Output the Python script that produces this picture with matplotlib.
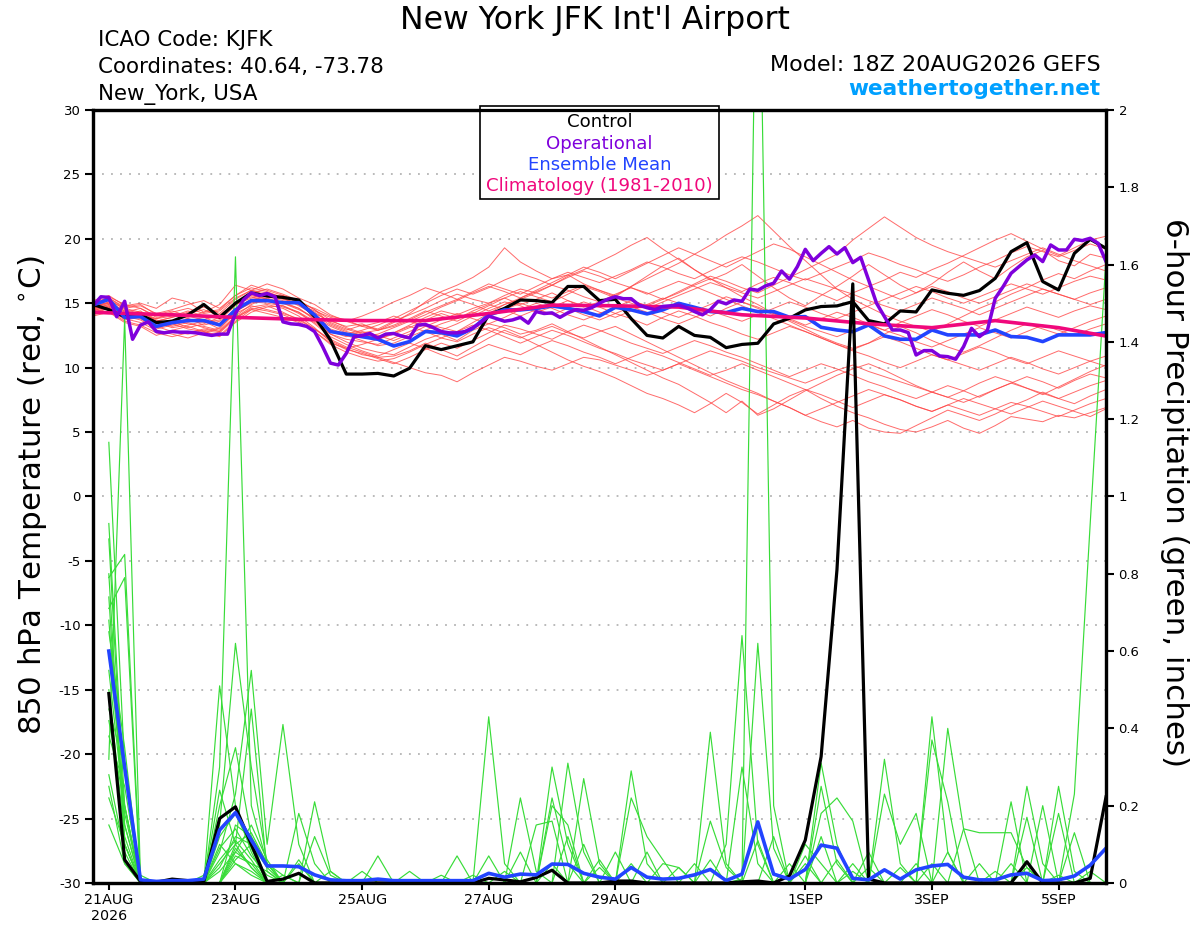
import numpy as np
import matplotlib.pyplot as plt
from matplotlib.patches import Rectangle
from matplotlib.ticker import FormatStrFormatter

plt.rcParams['font.family'] = ['DejaVu Sans']

# forecast hours of the 18Z 20AUG2026 run
hours_t = np.arange(0, 385, 6)    # temperature, 6-hourly (65)
hours_op = np.arange(0, 385, 3)   # operational, 3-hourly (129)
hours_p = np.arange(6, 385, 6)    # 6-hour precip totals (64)
clim_hours = [0, 6, 30, 54, 78, 102, 126, 150, 174, 198, 222, 246, 270,
              294, 318, 342, 366, 384]

tick_days = [0, 2, 4, 6, 8, 11, 13, 15]
tick_labels = ['21AUG\n2026', '23AUG', '25AUG', '27AUG', '29AUG',
               '1SEP', '3SEP', '5SEP']

# ---- 850 hPa temperature (C) ----
control_t = [14.9, 14.5, 13.95, 14.1, 13.5, 13.6, 14.1, 14.9, 13.9, 15.0, 15.8, 15.56, 15.45, 15.25, 13.96, 12.15,
             9.5, 9.5, 9.55, 9.35, 9.95, 11.7, 11.4, 11.7, 12.0, 14.1, 14.6, 15.25, 15.2, 15.05, 16.3, 16.3,
             15.2, 15.3, 13.8, 12.5, 12.3, 13.2, 12.5, 12.35, 11.55, 11.8, 11.89, 13.39, 13.83, 14.48, 14.74, 14.79,
             15.12, 13.65, 13.39, 14.4, 14.32, 16.03, 15.77, 15.61, 15.98, 16.93, 19.0, 19.7, 16.68, 16.03, 18.87, 19.96, 19.26]
mean_t = [14.86, 15.3, 13.9, 13.96, 13.2, 13.49, 13.65, 13.65, 13.31, 14.48, 15.2, 15.2, 15.04, 15.04, 14.09, 12.8,
          12.6, 12.4, 12.2, 11.68, 12.02, 12.8, 12.72, 12.46, 13.05, 14.09, 14.48, 14.48, 14.6, 14.79, 14.6, 14.35,
          14.01, 14.68, 14.48, 14.17, 14.48, 14.99, 14.68, 14.35, 14.27, 14.6, 14.35, 14.35, 13.91, 13.96, 13.13, 12.92,
          12.79, 13.31, 12.46, 12.2, 12.2, 12.92, 12.54, 12.54, 12.54, 12.92, 12.41, 12.35, 12.02, 12.54, 12.54, 12.54, 12.72]
oper_t = [14.8, 15.5, 15.45, 13.95, 15.15, 12.2, 13.3, 13.55, 12.8, 12.7, 12.8, 12.75, 12.75, 12.7, 12.6, 12.5,
          12.6, 12.6, 14.2, 15.25, 15.8, 15.6, 15.75, 15.5, 13.55, 13.4, 13.35, 13.2, 12.8, 11.65, 10.35, 10.2,
          11.1, 12.4, 12.5, 12.65, 12.3, 12.6, 12.65, 12.45, 12.3, 13.3, 13.35,
          13.1, 12.8, 12.7, 12.7, 12.8, 13.1, 13.5, 14.0, 13.8, 13.6, 13.7, 13.9, 13.45, 14.35, 14.2, 14.25,
          13.9, 14.25, 14.5, 14.45, 14.65, 15.0, 15.3, 15.5, 15.35, 15.35, 14.85, 14.65, 14.5, 14.75, 14.8, 14.85,
          14.65, 14.35, 14.1, 14.5, 15.15, 14.95, 15.25, 15.15, 16.1, 16.0, 16.35,
          16.55, 17.5, 16.86, 17.84, 19.18, 18.3, 18.87, 19.39, 18.82, 19.31, 18.15, 18.56, 16.8, 15.0, 13.96, 12.92,
          12.92, 12.72, 10.98, 11.32, 11.32, 10.9, 10.85, 10.65, 11.63, 13.05, 12.4, 12.87, 15.38, 16.29, 17.32, 17.84,
          18.36, 18.74, 18.23, 19.52, 19.13, 19.13, 19.96, 19.86, 20.04, 19.65, 18.23]
clim_t = [14.3, 14.25, 14.1, 13.9, 13.75, 13.65, 13.65, 14.2, 14.85, 14.8, 14.7, 14.1,
          13.85, 13.4, 13.1, 13.65, 13.1, 12.45]

# ensemble members, temperature
r00 = [15.2, 15.6, 14.8, 15.0, 14.6, 15.4, 15.1, 14.3, 14.9, 16.4, 16.0, 15.8, 15.5, 15.1, 14.2, 13.6,
       13.2, 13.4, 12.9, 13.5, 14.2, 15.1, 15.9, 16.4, 17.0, 17.8, 19.3, 18.2, 17.5, 16.9, 17.2, 16.5,
       16.0, 15.5, 16.3, 17.1, 17.9, 18.5, 17.6, 16.8, 17.3, 18.0, 17.1, 16.2, 15.4, 14.8, 15.6, 16.3,
       17.1, 18.0, 17.2, 16.4, 15.8, 16.5, 17.4, 18.2, 17.5, 16.9, 17.8, 18.6, 19.1, 18.3, 17.9, 18.8, 18.5]
r01 = [14.5, 14.9, 14.2, 13.8, 13.1, 13.4, 13.0, 12.8, 12.5, 13.6, 14.5, 14.8, 14.3, 13.7, 13.0, 12.1,
       11.5, 11.0, 10.8, 10.9, 11.3, 11.9, 11.4, 10.9, 11.6, 12.3, 12.9, 12.4, 11.8, 11.2, 10.6, 10.1,
       9.7, 9.2, 8.6, 8.0, 7.6, 7.1, 6.5, 7.2, 8.0, 7.3, 6.4, 7.1, 7.8, 8.3, 7.6, 7.0,
       6.5, 6.1, 5.6, 5.2, 5.0, 5.4, 5.9, 5.3, 4.9, 5.5, 6.2, 6.0, 5.8, 6.3, 6.1, 6.5, 6.9]
r02 = [14.6, 15.0, 14.1, 14.4, 13.6, 13.9, 14.2, 14.5, 14.0, 15.1, 15.6, 15.3, 15.1, 14.6, 13.7, 12.6,
       12.2, 12.0, 11.8, 12.3, 12.8, 13.4, 13.1, 12.8, 13.5, 14.2, 14.9, 15.3, 15.8, 16.4, 17.1, 17.6,
       18.2, 18.8, 19.5, 20.1, 19.2, 18.4, 17.6, 16.9, 16.2, 15.5, 14.9, 14.2, 13.6, 13.0, 12.4, 11.9,
       11.5, 11.9, 12.6, 13.2, 12.7, 12.1, 11.6, 11.2, 11.7, 12.3, 12.9, 13.4, 13.0, 12.6, 13.1, 13.6, 14.0]
r03 = [14.3, 14.7, 13.8, 14.0, 13.4, 13.7, 13.4, 13.2, 12.9, 14.0, 14.9, 15.4, 15.6, 15.0, 14.3, 13.5,
       13.0, 12.6, 12.3, 12.7, 13.3, 13.9, 14.4, 14.1, 14.6, 15.0, 15.4, 14.9, 15.3, 15.8, 15.2, 14.7,
       15.1, 15.6, 16.3, 16.9, 17.5, 18.1, 18.8, 19.5, 20.3, 21.0, 21.8, 20.6, 19.4, 18.3, 17.2, 16.1,
       15.3, 14.7, 14.1, 13.6, 13.2, 12.8, 13.4, 14.0, 14.6, 15.1, 15.7, 16.2, 16.8, 17.3, 16.9, 17.5, 18.0]
r04 = [15.0, 15.3, 14.5, 14.2, 13.5, 13.1, 13.3, 13.6, 13.0, 14.3, 15.1, 15.0, 14.8, 14.2, 13.5, 12.6,
       12.0, 11.5, 11.2, 11.0, 11.6, 12.2, 12.6, 12.1, 12.9, 13.4, 13.1, 12.6, 12.9, 13.4, 12.8, 12.2,
       11.6, 11.0, 10.4, 9.8, 9.2, 8.7, 8.0, 7.3, 6.5, 7.4, 6.3, 6.8, 7.5, 8.2, 8.8, 9.4,
       9.9, 10.3, 9.8, 9.2, 8.6, 8.1, 7.7, 8.2, 8.8, 9.3, 8.9, 8.4, 7.9, 8.5, 9.1, 9.7, 10.2]
r05 = [14.7, 15.1, 14.3, 14.6, 13.9, 14.1, 13.8, 13.5, 13.7, 14.8, 15.8, 16.1, 15.7, 15.2, 14.5, 13.4,
       12.9, 13.3, 13.0, 13.6, 14.1, 14.6, 15.2, 15.7, 15.3, 15.0, 15.6, 16.1, 15.8, 15.4, 15.9, 16.4,
       16.0, 15.6, 15.2, 14.8, 15.3, 15.9, 16.5, 17.1, 16.7, 16.2, 15.8, 16.4, 17.0, 17.6, 18.2, 18.8,
       19.9, 20.8, 21.7, 20.9, 20.1, 19.5, 19.0, 18.6, 18.2, 17.8, 18.3, 18.8, 19.3, 18.8, 18.3, 17.9, 17.5]
r06 = [14.2, 14.6, 13.7, 13.9, 13.2, 12.8, 12.6, 12.9, 12.7, 13.8, 14.6, 14.4, 14.1, 13.6, 12.8, 11.8,
       11.2, 10.8, 10.5, 10.7, 11.2, 11.8, 12.3, 12.0, 12.6, 13.1, 12.7, 12.3, 12.8, 13.2, 12.7, 12.3,
       12.8, 13.2, 12.6, 12.0, 11.4, 10.8, 10.2, 9.6, 9.0, 8.5, 8.0, 7.4, 6.9, 6.3, 5.8, 5.4,
       5.9, 5.3, 5.0, 4.9, 5.5, 6.1, 6.7, 6.3, 5.9, 6.4, 7.0, 7.5, 8.1, 7.6, 7.2, 7.8, 8.3]
r07 = [14.9, 15.2, 14.6, 14.8, 14.2, 14.5, 14.9, 15.2, 14.6, 15.6, 16.2, 15.9, 15.4, 14.9, 14.4, 13.9,
       13.6, 14.0, 14.5, 15.1, 15.6, 16.2, 15.8, 15.3, 15.9, 16.5, 16.1, 15.7, 16.3, 16.9, 17.4, 17.0,
       16.6, 17.1, 17.6, 18.2, 17.8, 17.3, 16.9, 17.5, 18.1, 18.6, 18.2, 17.7, 17.2, 16.8, 17.3, 17.8,
       18.3, 18.9, 18.5, 18.0, 17.6, 17.1, 16.7, 17.2, 17.8, 18.3, 18.9, 19.4, 19.0, 18.6, 19.1, 19.6, 19.2]
r08 = [14.4, 14.8, 14.0, 13.7, 13.0, 13.3, 13.6, 13.9, 13.4, 14.6, 15.3, 15.5, 15.2, 14.9, 14.0, 12.9,
       12.5, 12.1, 11.7, 11.9, 12.4, 12.9, 13.4, 13.8, 14.3, 14.0, 14.5, 15.0, 14.6, 14.1, 14.6, 15.1,
       14.7, 14.2, 13.8, 13.3, 13.9, 14.4, 14.0, 13.5, 13.1, 12.6, 12.2, 12.7, 13.2, 12.8, 12.3, 11.8,
       11.4, 11.9, 12.4, 12.0, 11.5, 11.0, 10.6, 11.1, 11.6, 11.2, 10.7, 10.3, 10.8, 11.3, 10.9, 10.5, 10.9]
r09 = [14.1, 14.4, 13.6, 13.3, 12.7, 12.4, 12.7, 13.0, 12.8, 13.9, 14.7, 14.9, 14.6, 14.0, 13.1, 12.0,
       11.4, 11.1, 10.7, 10.3, 10.8, 11.4, 11.9, 11.5, 12.1, 12.7, 13.3, 13.0, 12.6, 12.2, 12.8, 13.3,
       12.9, 12.4, 11.9, 11.5, 11.1, 11.6, 12.1, 11.7, 11.2, 10.8, 10.3, 9.8, 9.3, 9.8, 10.3, 9.9,
       9.4, 8.9, 8.5, 8.0, 7.6, 8.1, 8.6, 8.2, 7.7, 8.3, 8.8, 9.3, 8.9, 8.4, 9.0, 9.5, 9.2]
r10 = [14.8, 15.0, 14.4, 14.1, 13.6, 13.9, 14.3, 14.7, 14.2, 15.3, 16.0, 15.6, 15.3, 15.0, 14.6, 14.0,
       13.7, 13.2, 12.9, 13.2, 13.7, 14.3, 14.8, 15.3, 14.9, 14.4, 14.9, 15.4, 15.9, 16.4, 16.0, 15.5,
       15.1, 15.7, 16.2, 15.8, 15.3, 15.8, 16.4, 16.9, 16.4, 15.9, 16.5, 17.0, 16.6, 16.1, 15.7, 15.2,
       15.8, 16.3, 16.8, 17.4, 17.0, 17.6, 18.1, 18.7, 19.3, 19.9, 20.4, 19.8, 19.2, 18.7, 19.3, 19.9, 20.2]
r11 = [14.6, 14.9, 14.1, 14.3, 13.7, 13.4, 13.8, 13.3, 13.6, 14.4, 15.0, 15.4, 15.0, 14.5, 13.9, 13.2,
       12.7, 12.4, 12.6, 13.1, 13.6, 13.2, 12.9, 13.4, 14.0, 14.6, 15.1, 14.8, 14.3, 14.7, 15.2, 14.8,
       14.3, 13.9, 14.4, 14.9, 15.4, 15.0, 14.5, 14.0, 14.6, 15.1, 14.7, 14.2, 13.8, 13.3, 13.8, 14.3,
       13.9, 13.4, 12.9, 13.5, 14.0, 14.5, 14.1, 13.6, 13.2, 13.7, 14.2, 14.7, 14.3, 13.9, 14.4, 14.8, 14.5]
r12 = [14.0, 14.3, 13.5, 13.2, 12.5, 12.9, 13.2, 12.8, 12.4, 13.5, 14.3, 14.7, 14.8, 14.3, 13.4, 12.4,
       11.8, 11.3, 10.9, 11.4, 11.9, 11.5, 11.0, 10.6, 11.2, 11.8, 11.4, 11.0, 11.6, 12.1, 11.7, 11.2,
       10.8, 10.3, 10.8, 11.3, 10.9, 10.4, 9.9, 9.4, 9.8, 10.3, 9.8, 9.3, 8.8, 8.3, 7.9, 7.4,
       6.9, 7.4, 7.9, 7.5, 7.0, 6.6, 7.1, 7.6, 7.2, 6.8, 6.4, 6.9, 7.4, 7.0, 6.6, 6.2, 6.8]
r13 = [15.1, 15.4, 14.7, 14.9, 14.1, 14.4, 14.0, 13.7, 14.1, 15.0, 15.7, 15.3, 15.0, 14.6, 13.8, 13.0,
       12.6, 12.9, 13.3, 13.8, 14.4, 15.0, 15.6, 16.1, 15.7, 16.2, 16.8, 17.3, 16.9, 16.4, 17.0, 17.5,
       17.1, 16.6, 16.2, 15.7, 16.2, 16.7, 16.3, 15.8, 15.3, 14.8, 14.3, 13.8, 13.3, 12.8, 12.3, 11.8,
       11.3, 10.9, 10.4, 10.0, 10.5, 11.0, 10.6, 10.2, 9.8, 10.3, 10.8, 10.4, 9.9, 9.5, 10.0, 10.5, 10.1]
r14 = [14.5, 14.7, 13.9, 14.1, 13.3, 13.6, 13.1, 13.4, 13.9, 15.0, 15.5, 15.2, 14.7, 14.3, 13.6, 12.8,
       12.4, 12.8, 12.5, 12.1, 12.6, 13.2, 13.7, 14.2, 13.8, 13.4, 13.9, 14.5, 15.0, 14.6, 14.1, 13.7,
       14.2, 14.7, 15.2, 14.8, 14.3, 13.9, 14.4, 14.9, 15.5, 15.1, 14.6, 14.1, 13.7, 13.2, 12.8, 12.4,
       12.9, 13.3, 12.9, 12.5, 12.0, 11.6, 12.1, 12.6, 13.1, 12.7, 12.3, 12.8, 13.3, 12.9, 12.5, 13.0, 13.4]
r15 = [14.8, 15.5, 14.9, 14.6, 14.0, 14.3, 14.6, 14.2, 14.4, 15.4, 16.0, 16.5, 16.1, 15.4, 14.9, 14.1,
       13.6, 13.2, 13.5, 14.0, 13.6, 14.1, 14.7, 15.2, 15.8, 16.3, 15.9, 15.4, 16.0, 16.6, 17.2, 17.8,
       17.4, 16.9, 17.5, 18.1, 18.7, 19.3, 18.8, 18.3, 17.8, 18.4, 19.0, 19.6, 19.2, 18.6, 18.0, 17.4,
       16.8, 16.3, 15.8, 15.3, 15.8, 16.3, 15.9, 15.4, 15.0, 15.5, 16.0, 16.5, 16.1, 15.7, 15.3, 15.8, 16.2]
r16 = [14.3, 14.6, 13.8, 13.5, 12.9, 12.6, 12.3, 12.7, 13.1, 14.2, 14.8, 14.5, 14.2, 13.8, 13.0, 12.2,
       11.6, 11.2, 10.8, 10.4, 10.0, 9.6, 9.4, 8.9, 9.6, 10.2, 10.8, 10.5, 10.1, 9.8, 10.3, 10.8,
       10.6, 10.2, 9.8, 9.4, 9.8, 10.3, 10.8, 11.3, 10.9, 10.5, 10.0, 9.6, 9.2, 8.8, 9.3, 9.8,
       10.2, 9.7, 9.3, 8.9, 8.5, 8.1, 7.7, 7.3, 7.8, 8.3, 8.8, 8.4, 8.0, 7.6, 8.1, 8.6, 9.0]
r17 = [14.6, 15.1, 14.4, 14.0, 13.8, 14.0, 14.4, 14.0, 13.8, 14.9, 15.4, 15.8, 15.4, 14.8, 14.1, 13.3,
       12.8, 12.5, 12.2, 12.6, 13.1, 13.7, 14.2, 13.8, 14.4, 14.9, 14.5, 14.0, 14.5, 15.0, 14.6, 14.1,
       13.7, 14.2, 14.7, 14.3, 13.8, 13.4, 13.9, 14.4, 14.0, 13.6, 14.1, 14.6, 15.1, 14.7, 14.2, 13.8,
       14.3, 14.8, 15.3, 15.8, 16.3, 15.9, 15.4, 15.0, 15.5, 16.0, 16.5, 16.1, 15.7, 16.2, 16.7, 17.1, 16.8]
r18 = [14.4, 14.8, 14.0, 14.2, 13.5, 13.2, 13.5, 13.1, 12.8, 13.9, 14.5, 14.2, 13.9, 13.5, 12.8, 11.9,
       11.5, 11.8, 12.2, 12.7, 13.2, 12.8, 12.3, 12.8, 13.3, 12.9, 12.4, 11.9, 12.4, 12.9, 12.5, 12.0,
       11.5, 11.1, 10.6, 10.2, 9.8, 10.3, 9.8, 9.3, 8.8, 8.3, 7.9, 7.4, 6.9, 6.3, 6.8, 7.3,
       7.8, 8.3, 7.9, 7.5, 7.0, 6.6, 7.1, 6.7, 6.3, 6.8, 7.3, 7.0, 6.6, 6.2, 6.7, 7.2, 7.6]
r19 = [15.0, 15.4, 14.6, 14.3, 13.8, 14.2, 13.9, 14.3, 14.5, 15.6, 16.4, 16.0, 15.6, 15.2, 14.5, 13.7,
       13.1, 12.7, 12.9, 13.3, 13.8, 14.4, 14.0, 13.6, 14.2, 14.8, 15.4, 15.9, 15.5, 15.1, 15.7, 16.3,
       15.9, 15.4, 15.0, 14.6, 15.1, 15.6, 16.1, 16.6, 16.2, 15.8, 15.4, 15.9, 16.4, 16.9, 16.5, 16.1,
       15.7, 15.2, 14.8, 14.4, 14.9, 15.4, 15.0, 14.6, 14.1, 14.6, 15.1, 15.6, 16.1, 15.7, 15.3, 14.9, 15.3]
red_members = [r00, r01, r02, r03, r04, r05, r06, r07, r08, r09,
               r10, r11, r12, r13, r14, r15, r16, r17, r18, r19]

# ---- 6-hour precipitation (inches) ----
control_p = [0.49, 0.06, 0.004, 0.002, 0.01, 0.006, 0.004, 0.167, 0.197, 0.10, 0.004, 0.01, 0.025, 0, 0, 0,
             0, 0, 0, 0, 0, 0, 0, 0, 0.012, 0.008, 0.003, 0.014, 0.033, 0, 0, 0,
             0.005, 0.005, 0, 0, 0, 0, 0, 0, 0.003, 0.005, 0, 0.018, 0.111, 0.327, 0.81, 1.55,
             0.01, 0, 0, 0, 0, 0, 0, 0, 0, 0, 0.055, 0, 0, 0, 0.012, 0.223]
mean_p = [0.60, 0.30, 0.008, 0.004, 0.006, 0.006, 0.01, 0.137, 0.182, 0.111, 0.044, 0.044, 0.042, 0.021, 0.008, 0.006,
          0.006, 0.01, 0.006, 0.006, 0.006, 0.006, 0.006, 0.006, 0.025, 0.015, 0.023, 0.021, 0.049, 0.048, 0.025, 0.015,
          0.01, 0.04, 0.015, 0.01, 0.012, 0.021, 0.035, 0.006, 0.023, 0.158, 0.023, 0.01, 0.035, 0.098, 0.09, 0.012,
          0.008, 0.034, 0.01, 0.034, 0.044, 0.048, 0.015, 0.008, 0.008, 0.021, 0.025, 0.006, 0.008, 0.018, 0.046, 0.09]

g00 = [1.14, 0.30, 0.02, 0, 0, 0, 0, 0.05, 0.10, 0.04, 0, 0, 0, 0, 0, 0,
       0, 0, 0, 0, 0, 0, 0, 0, 0.43, 0.05, 0, 0, 0, 0, 0, 0,
       0, 0, 0, 0, 0, 0, 0, 0, 0, 0, 0, 0, 0, 0.31, 0.10, 0,
       0, 0, 0, 0, 0.05, 0, 0, 0, 0, 0, 0, 0, 0, 0, 0, 0]
g01 = [0.93, 0.20, 0, 0, 0, 0, 0.02, 0.15, 0.62, 0.30, 0.05, 0.02, 0, 0, 0, 0,
       0, 0, 0, 0, 0, 0, 0, 0, 0, 0, 0, 0, 0.30, 0.10, 0, 0,
       0, 0, 0, 0, 0, 0, 0, 0, 0, 0.62, 0.09, 0, 0, 0, 0, 0,
       0, 0, 0, 0, 0, 0.40, 0.14, 0, 0, 0, 0, 0, 0, 0, 0, 0]
g02 = [0.89, 0.15, 0, 0, 0, 0, 0, 0.51, 0.20, 0.08, 0, 0, 0, 0.21, 0.03, 0,
       0, 0, 0, 0, 0, 0, 0, 0, 0, 0, 0, 0, 0, 0, 0.27, 0.05,
       0, 0, 0, 0, 0, 0, 0, 0, 0, 0, 0, 0, 0, 0, 0, 0,
       0, 0.32, 0.05, 0, 0, 0, 0, 0, 0, 0.21, 0, 0, 0, 0, 0, 0]
g03 = [0.79, 0.85, 0.01, 0, 0, 0, 0, 0.30, 1.62, 0.20, 0.05, 0, 0, 0, 0, 0,
       0, 0, 0, 0, 0, 0, 0, 0, 0, 0, 0.22, 0.03, 0, 0, 0, 0,
       0, 0, 0, 0, 0, 0, 0.39, 0.05, 0, 0, 0, 0, 0, 0, 0, 0,
       0, 0, 0, 0, 0, 0, 0, 0, 0, 0, 0.25, 0.05, 0, 0, 0, 0]
g04 = [0.74, 0.10, 0, 0, 0, 0, 0, 0.08, 0.23, 0.55, 0.10, 0.41, 0.10, 0, 0, 0,
       0, 0, 0, 0, 0, 0, 0, 0, 0, 0, 0, 0, 0, 0.31, 0.08, 0,
       0, 0, 0, 0, 0, 0, 0, 0, 0.01, 2.70, 0.20, 0, 0, 0, 0, 0,
       0, 0, 0, 0, 0.43, 0.08, 0, 0, 0, 0, 0, 0, 0, 0, 0, 0]
g05 = [0.71, 0.79, 0, 0, 0, 0, 0, 0.24, 0.10, 0.45, 0.03, 0, 0, 0, 0, 0,
       0, 0, 0, 0, 0, 0, 0, 0, 0, 0, 0, 0, 0.22, 0.05, 0, 0,
       0, 0.29, 0.05, 0, 0, 0, 0, 0, 0, 0, 0, 0, 0, 0.25, 0.05, 0,
       0, 0, 0, 0, 0, 0, 0, 0, 0, 0, 0, 0, 0.25, 0.03, 0, 0]
g06 = [0.60, 0.20, 0, 0, 0, 0, 0, 0, 0.15, 0.12, 0.05, 0, 0.18, 0.05, 0, 0,
       0, 0, 0, 0, 0, 0, 0, 0, 0, 0, 0, 0, 0, 0, 0, 0,
       0, 0.22, 0.12, 0.06, 0, 0, 0, 0, 0, 0, 0, 0, 0, 0.18, 0.22, 0.16,
       0, 0, 0, 0, 0.37, 0.21, 0, 0, 0, 0, 0, 0, 0, 0, 0, 0]
g07 = [0.32, 1.46, 0.01, 0, 0, 0, 0, 0.10, 0.05, 0.02, 0, 0, 0, 0, 0, 0,
       0, 0.07, 0, 0, 0, 0, 0, 0, 0, 0, 0, 0, 0.20, 0.15, 0, 0,
       0, 0, 0, 0, 0, 0, 0, 0, 0.30, 0.05, 0, 0, 0, 0, 0, 0,
       0, 0.23, 0.10, 0.18, 0, 0, 0, 0, 0, 0, 0, 0, 0, 0.23, 0.93, 1.62]
g08 = [0.22, 0.10, 0, 0, 0, 0, 0, 0.12, 0.18, 0.09, 0, 0, 0, 0.12, 0.02, 0,
       0, 0, 0, 0, 0, 0, 0, 0, 0.07, 0, 0, 0, 0, 0, 0, 0,
       0, 0, 0, 0, 0, 0, 0.16, 0.04, 0, 0, 0, 0, 0.10, 0.05, 0, 0,
       0, 0, 0, 0, 0, 0, 0.14, 0.13, 0.13, 0.13, 0.04, 0, 0, 0, 0, 0]
g09 = [0.15, 0.05, 0, 0, 0, 0, 0, 0, 0.08, 0.15, 0.06, 0, 0, 0, 0, 0,
       0, 0, 0, 0, 0, 0, 0, 0, 0, 0, 0, 0.15, 0.16, 0, 0, 0,
       0, 0, 0, 0.05, 0.04, 0, 0, 0, 0, 0, 0, 0, 0, 0, 0, 0,
       0.08, 0, 0, 0, 0, 0, 0, 0, 0, 0, 0, 0.20, 0, 0, 0, 0]
g10 = [0.45, 0.30, 0, 0, 0, 0, 0, 0.03, 0.08, 0.05, 0, 0, 0, 0, 0, 0,
       0, 0, 0, 0, 0, 0, 0.07, 0, 0, 0, 0.08, 0, 0, 0, 0, 0.06,
       0, 0, 0, 0, 0, 0, 0, 0.10, 0.64, 0.10, 0, 0, 0, 0, 0, 0,
       0, 0, 0, 0, 0, 0, 0, 0, 0, 0, 0.17, 0, 0, 0, 0, 0]
g11 = [0.50, 0.12, 0, 0, 0, 0, 0, 0, 0.06, 0.10, 0.04, 0, 0.05, 0, 0, 0,
       0, 0, 0, 0, 0, 0, 0, 0, 0, 0, 0, 0, 0, 0, 0.10, 0,
       0, 0, 0, 0, 0, 0, 0, 0, 0, 0, 0.12, 0, 0, 0, 0, 0.05,
       0, 0, 0, 0, 0, 0, 0, 0, 0, 0, 0, 0, 0, 0.13, 0, 0]
g12 = [0.38, 0.25, 0, 0, 0, 0, 0, 0.09, 0.14, 0.07, 0.02, 0, 0, 0, 0, 0,
       0.03, 0, 0, 0, 0, 0, 0, 0, 0, 0, 0, 0, 0, 0, 0, 0,
       0, 0, 0.08, 0, 0, 0, 0, 0, 0, 0, 0, 0.05, 0, 0, 0, 0,
       0, 0, 0, 0, 0, 0.08, 0, 0, 0, 0, 0, 0, 0.18, 0, 0, 0]
g13 = [0.65, 0.35, 0, 0, 0, 0, 0, 0, 0.10, 0.13, 0.05, 0, 0, 0, 0.03, 0,
       0, 0, 0, 0, 0, 0, 0, 0, 0, 0, 0, 0, 0, 0, 0, 0,
       0.08, 0, 0, 0, 0, 0, 0, 0, 0, 0, 0, 0, 0, 0, 0.06, 0,
       0, 0, 0.04, 0, 0, 0, 0, 0, 0, 0, 0, 0, 0, 0, 0, 0]
g14 = [0.55, 0.18, 0, 0, 0, 0, 0, 0.06, 0.11, 0.06, 0, 0.02, 0, 0, 0, 0,
       0, 0, 0, 0, 0, 0, 0, 0, 0, 0.03, 0, 0, 0, 0, 0, 0,
       0, 0, 0, 0, 0.04, 0, 0, 0, 0, 0, 0, 0, 0.07, 0, 0, 0,
       0, 0, 0, 0, 0, 0, 0, 0.05, 0, 0, 0, 0, 0, 0, 0, 0]
g15 = [0.80, 0.10, 0, 0, 0, 0, 0, 0, 0.09, 0.04, 0, 0, 0, 0, 0, 0,
       0, 0, 0, 0.03, 0, 0, 0, 0, 0, 0, 0, 0, 0, 0.12, 0, 0,
       0, 0, 0, 0, 0, 0.05, 0, 0, 0, 0, 0, 0, 0, 0, 0, 0.03,
       0, 0, 0, 0, 0, 0, 0, 0, 0, 0, 0.04, 0, 0, 0, 0, 0]
g16 = [0.28, 0.08, 0, 0, 0, 0, 0, 0.04, 0.12, 0.10, 0, 0, 0, 0, 0, 0,
       0, 0, 0, 0, 0, 0.02, 0, 0, 0, 0, 0, 0, 0, 0, 0, 0,
       0, 0.05, 0, 0, 0, 0, 0, 0, 0, 0, 0, 0, 0, 0.12, 0, 0,
       0, 0, 0, 0, 0, 0, 0, 0, 0, 0.05, 0, 0, 0, 0, 0, 0]
g17 = [0.42, 0.20, 0, 0, 0, 0, 0, 0, 0.07, 0.05, 0.03, 0, 0, 0, 0, 0,
       0, 0, 0, 0, 0, 0, 0, 0, 0, 0, 0, 0, 0.05, 0, 0, 0,
       0, 0, 0, 0, 0, 0, 0, 0, 0, 0.11, 0, 0, 0, 0, 0, 0,
       0, 0, 0, 0.05, 0, 0, 0, 0, 0, 0, 0, 0, 0, 0, 0.03, 0]
g18 = [0.68, 0.15, 0, 0, 0, 0, 0, 0.20, 0.35, 0.12, 0, 0, 0.06, 0, 0, 0,
       0, 0, 0, 0, 0, 0, 0, 0, 0, 0, 0, 0, 0, 0, 0, 0.04,
       0, 0, 0, 0, 0, 0, 0, 0, 0, 0, 0, 0, 0.05, 0, 0, 0,
       0, 0, 0, 0, 0, 0, 0, 0, 0.03, 0, 0, 0, 0, 0, 0, 0]
g19 = [0.25, 0.05, 0, 0, 0, 0, 0, 0, 0.05, 0.03, 0, 0, 0, 0, 0, 0,
       0, 0, 0, 0, 0, 0, 0, 0.02, 0, 0, 0, 0, 0, 0, 0, 0,
       0, 0, 0, 0, 0, 0, 0.06, 0, 0, 0, 0, 0, 0, 0, 0, 0,
       0.04, 0, 0, 0, 0, 0, 0, 0, 0, 0, 0, 0, 0.02, 0, 0, 0]
green_members = [g00, g01, g02, g03, g04, g05, g06, g07, g08, g09,
                 g10, g11, g12, g13, g14, g15, g16, g17, g18, g19]


def to_days(h):
    # days since 21AUG 00Z (run starts 20AUG 18Z)
    return (np.asarray(h) - 6) / 24.0


fig = plt.figure(figsize=(12, 9.27), dpi=100)
ax = fig.add_axes([0.0775, 0.0475, 0.8442, 0.8339])
ax2 = ax.twinx()
ax.set_xlim(-0.25, 15.75)
ax.set_ylim(-30, 30)
ax2.set_ylim(0, 2)

pt = ax2.transData  # precip drawn in the right-axis scale, inside ax for ordering

for m in red_members:
    ax.plot(to_days(hours_t), m, color='#ff4646', lw=0.7, alpha=0.8)
for m in green_members:
    ax.plot(to_days(hours_p), m, color='#38dc38', lw=0.85, transform=pt)

ax.plot(to_days(hours_t), control_t, color='black', lw=2.3)
ax.plot(to_days(hours_t), mean_t, color='#2244ff', lw=2.6)
ax.plot(to_days(clim_hours), clim_t, color='#f0087c', lw=2.6)
ax.plot(to_days(hours_op), oper_t, color='#7f00dc', lw=2.5)
ax.plot(to_days(hours_p), control_p, color='black', lw=2.3, transform=pt)
ax.plot(to_days(hours_p), mean_p, color='#2244ff', lw=2.6, transform=pt)

ax.set_xlim(-0.25, 15.75)
ax.set_ylim(-30, 30)

# axes styling
ax.set_yticks(np.arange(-30, 31, 5))
ax.yaxis.set_major_formatter(FormatStrFormatter('%g'))
ax2.set_yticks(np.arange(0, 2.01, 0.2))
ax2.yaxis.set_major_formatter(FormatStrFormatter('%g'))
ax.set_xticks(tick_days)
ax.set_xticklabels(tick_labels)
ax.grid(axis='y', color='#b4b4b4', linestyle=(0, (1, 4)), linewidth=1.3)
ax.set_axisbelow(True)
ax.tick_params(axis='y', direction='out', length=6, width=1.5, labelsize=9.5, pad=3)
ax.tick_params(axis='x', direction='out', length=5, width=1.5, labelsize=10.3, pad=2)
ax2.tick_params(axis='y', direction='out', length=6, width=1.5, labelsize=9.5, pad=3)
for a in (ax, ax2):
    for s in a.spines.values():
        s.set_linewidth(2.3)

ax.set_ylabel('850 hPa Temperature (red, $^{\\circ}$C)', fontsize=22.3,
              va='center')
ax.yaxis.set_label_coords(-0.06, 0.502)
ax2.set_ylabel('6-hour Precipitation (green, inches)', fontsize=22.3,
               rotation=270, va='center')
ax2.yaxis.set_label_coords(1.068, 0.505)

# legend box
ax.add_patch(Rectangle((0.382, 0.885), 0.236, 0.12, transform=ax.transAxes,
                       facecolor='white', edgecolor='black', lw=1.2,
                       zorder=5, clip_on=False))
legend_items = [('Control', 'black'), ('Operational', '#7f00dc'),
                ('Ensemble Mean', '#2244ff'), ('Climatology (1981-2010)', '#f0087c')]
for k, (txt, col) in enumerate(legend_items):
    ax.text(0.5, 0.9774 - k * 0.0275, txt, color=col, fontsize=13.1,
            ha='center', va='baseline', transform=ax.transAxes, zorder=6)

# header texts
fig.text(0.496, 0.9684, "New York JFK Int'l Airport", ha='center', va='baseline',
         fontsize=22.7)
fig.text(0.082, 0.9504, 'ICAO Code: KJFK', fontsize=15.4, va='baseline')
fig.text(0.082, 0.9213, 'Coordinates: 40.64, -73.78', fontsize=15.4, va='baseline')
fig.text(0.082, 0.8921, 'New_York, USA', fontsize=15.4, va='baseline')
fig.text(0.917, 0.9234, 'Model: 18Z 20AUG2026 GEFS', fontsize=16, ha='right',
         va='baseline')
fig.text(0.917, 0.8975, 'weathertogether.net', fontsize=15.6, ha='right',
         va='baseline', color='#00a0ff', fontweight='bold')

fig.savefig('out.png', dpi=100)
